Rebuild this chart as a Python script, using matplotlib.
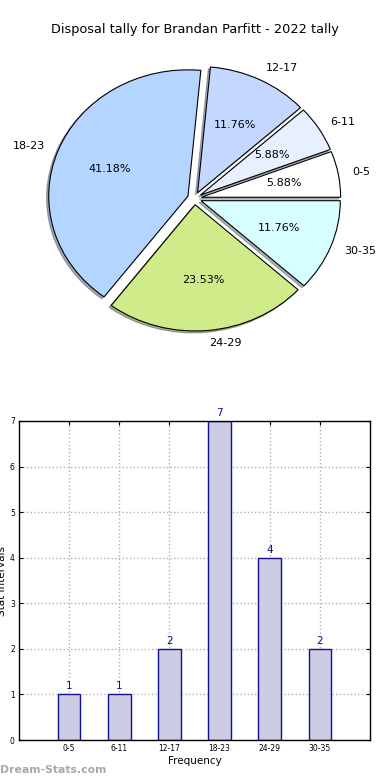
import matplotlib
matplotlib.use("Agg")
import matplotlib.pyplot as plt

categories = ["0-5", "6-11", "12-17", "18-23", "24-29", "30-35"]
counts = [1, 1, 2, 7, 4, 2]
pie_colors = ["#ffffff", "#e8f0ff", "#c4d8ff", "#b3d5ff", "#d0eb8a", "#d8ffff"]
title = "Disposal tally for Brandan Parfitt - 2022 tally"

W, H = 390, 780
fig = plt.figure(figsize=(W / 100, H / 100), dpi=100)

# ---- pie ----
cx, cy, sx, sy = 194.5, 198.4, 139.3, 126.3
xl, yl = 1.4, 1.3
ax1 = fig.add_axes([(cx - xl * sx) / W, 1 - (cy + yl * sy) / H, 2 * xl * sx / W, 2 * yl * sy / H])
wedges, texts, autotexts = ax1.pie(
    counts, labels=categories, colors=pie_colors, explode=[0.05] * len(counts),
    autopct="%1.2f%%", shadow={"ox": -0.011, "oy": -0.011, "shade": 0.6}, startangle=0, counterclock=True,
    wedgeprops=dict(edgecolor="black", linewidth=0.8),
    textprops=dict(fontsize=8, color="black"))
ax1.set_aspect("auto")
ax1.set_xlim(-xl, xl)
ax1.set_ylim(-yl, yl)
ax1.axis("off")
fig.text(0.5, 1 - 30 / H, title, ha="center", va="center", fontsize=9.3)

# ---- bar ----
ax2 = fig.add_axes([19 / W, 1 - 740 / H, 351 / W, 319 / H])
x = list(range(len(categories)))
bars = ax2.bar(x, counts, width=0.45, color="#cccce5", edgecolor="#101090", linewidth=1, zorder=2)
for xi, v in zip(x, counts):
    ax2.text(xi, v + 0.07, str(v), ha="center", va="bottom", color="#101090", fontsize=7.5)
ax2.set_xlim(-1, 6)
ax2.set_ylim(0, 7)
ax2.set_xticks(x)
ax2.set_xticklabels(categories)
ax2.set_yticks(range(0, 8))
ax2.tick_params(labelsize=5.5, direction="in", top=True, right=True, length=3, width=0.8, pad=3)
ax2.grid(True, linestyle=":", color="#b0b0b0", linewidth=1, zorder=0)
ax2.set_axisbelow(True)
ax2.set_xlabel("Frequency", fontsize=7.5, labelpad=2)
ax2.set_ylabel("Stat intervals", fontsize=7.5, labelpad=2)
for s in ax2.spines.values():
    s.set_linewidth(1)

fig.text(0.0, 1 - 770 / H, "Dream-Stats.com", ha="left", va="center", fontsize=7.8,
         color="#a8a8a8", fontweight="bold")

fig.savefig("out.png", dpi=100)
